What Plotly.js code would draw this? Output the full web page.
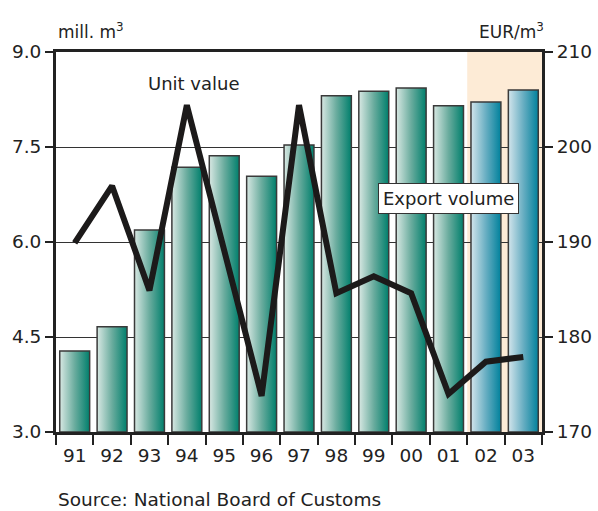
<!DOCTYPE html>
<html><head><meta charset="utf-8">
<script src="https://cdn.plot.ly/plotly-3.0.1.min.js"></script>
<style>body{margin:0;background:#fff}#c{width:598px;height:511px}</style>
</head><body><div id="c"></div>
<script>
var years = ['91','92','93','94','95','96','97','98','99','00','01','02','03'];
var exportVolume = [4.28, 4.66, 6.19, 7.18, 7.36, 7.04, 7.53, 8.31, 8.38, 8.43, 8.15, 8.21, 8.40];
var unitValue = [189.9, 195.9, 184.9, 204.4, 189.1, 173.8, 204.4, 184.6, 186.4, 184.6, 174.0, 177.4, 177.9];
var forecastYears = ['02','03'];

var base = 3.0, half = 0.4;
var traces = [];
years.forEach(function(yr, i){
  var v = exportVolume[i];
  var fc = forecastYears.indexOf(yr) >= 0;
  traces.push({
    type:'scatter', mode:'lines', xaxis:'x', yaxis:'y',
    x:[i-half, i-half, i+half, i+half, i-half],
    y:[base, v, v, base, base],
    fill:'toself',
    fillgradient:{type:'horizontal',
      colorscale: fc ? [[0,'#d3e5ec'],[0.5,'#68aec2'],[1,'#00819c']]
                     : [[0,'#d8e8e3'],[0.5,'#6aac9e'],[1,'#007f6c']]},
    line:{color:'#3a3a3a', width:1.5},
    hoverinfo:'skip', showlegend:false
  });
});
traces.push({
  type:'scatter', mode:'lines', xaxis:'x', yaxis:'y2',
  x: years.map(function(_, i){return i;}), y: unitValue,
  line:{color:'#1c1a1a', width:6, shape:'linear'},
  showlegend:false
});

var F = '"DejaVu Sans", sans-serif';
var layout = {
  width:598, height:511,
  margin:{l:56, r:56, t:52, b:79},
  paper_bgcolor:'#fff', plot_bgcolor:'#fff',
  font:{family:F, color:'#222', size:18},
  showlegend:false,
  xaxis:{
    range:[-0.5, 12.5], tickmode:'array',
    tickvals: years.map(function(_, i){return i;}), ticktext: years,
    ticks:'', showgrid:false, zeroline:false, ticklabelstandoff:5,
    showline:true, linecolor:'#222', linewidth:3, mirror:true,
    tickfont:{size:18.5, family:F, color:'#222'},
    minor:{tick0:0.5, dtick:1, ticks:'outside', ticklen:10, tickwidth:2, tickcolor:'#222', showgrid:false}
  },
  yaxis:{
    range:[3, 9], tick0:3, dtick:1.5, tickformat:'.1f',
    ticks:'outside', ticklen:8, tickwidth:2, tickcolor:'#222',
    showgrid:true, gridcolor:'#333', gridwidth:1, zeroline:false,
    showline:true, linecolor:'#222', linewidth:3,
    tickfont:{size:18.5, family:F, color:'#222'}
  },
  yaxis2:{
    range:[170, 210], tick0:170, dtick:10, overlaying:'y', side:'right',
    ticks:'outside', ticklen:8, tickwidth:2, tickcolor:'#222',
    showgrid:false, zeroline:false,
    showline:true, linecolor:'#222', linewidth:3,
    tickfont:{size:18.5, family:F, color:'#222'}
  },
  shapes:[{type:'rect', xref:'x', yref:'paper', x0:10.5, x1:12.5, y0:0, y1:1,
    fillcolor:'#fdebd6', line:{width:0}, layer:'below'}],
  annotations:[
    {xref:'paper', yref:'paper', x:0, y:1, xanchor:'left', yanchor:'bottom', yshift:8,
     text:'mill. m<sup>3</sup>', showarrow:false, font:{size:17, family:F, color:'#222'}},
    {xref:'paper', yref:'paper', x:1, y:1, xanchor:'right', yanchor:'bottom', yshift:8, xshift:4,
     text:'EUR/m<sup>3</sup>', showarrow:false, font:{size:17, family:F, color:'#222'}},
    {xref:'x', yref:'y2', x:3.2, y:206.7, xanchor:'center', yanchor:'middle',
     text:'Unit value', showarrow:false, font:{size:18, family:F, color:'#222'}},
    {xref:'x', yref:'y2', x:10.0, y:194.6, xanchor:'center', yanchor:'middle',
     text:'Export volume', showarrow:false, bgcolor:'#fff', bordercolor:'#333', borderwidth:1, borderpad:4,
     font:{size:18, family:F, color:'#222'}},
    {xref:'paper', yref:'paper', x:0, y:0, xanchor:'left', yanchor:'top', yshift:-55,
     text:'Source: National Board of Customs', showarrow:false, font:{size:18.5, family:F, color:'#222'}}
  ]
};
Plotly.newPlot('c', traces, layout, {displayModeBar:false, staticPlot:true});
</script></body></html>
